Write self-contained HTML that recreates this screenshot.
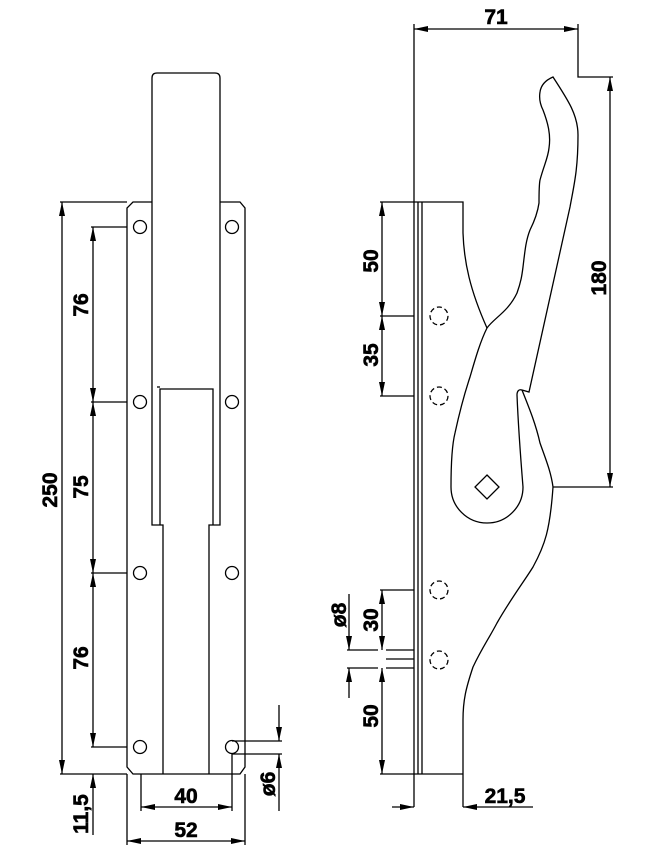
<!DOCTYPE html>
<html><head><meta charset="utf-8"><style>
html,body{margin:0;padding:0;background:#fff;}
svg{display:block;}
text{font-family:"Liberation Sans",sans-serif;font-weight:bold;font-size:21px;fill:#000;stroke:#000;stroke-width:0.6;}
</style></head><body>
<svg width="657" height="854" viewBox="0 0 657 854" xmlns="http://www.w3.org/2000/svg">
<defs>
<marker id="a" viewBox="0 0 14 6" refX="14" refY="3" markerWidth="14" markerHeight="6" markerUnits="userSpaceOnUse" orient="auto-start-reverse">
<path d="M0,0 L14,3 L0,6 z" fill="#000"/></marker>
</defs>
<g fill="none" stroke="#000" stroke-width="1.3">
<!-- LEFT VIEW -->
<path d="M152,387 L152,78 Q152,73 157,73 L215,73 Q220,73 220,78 L220,387"/>
<path d="M152,202 L133,202 L127,208 L127,767 L133,774 L240,774 L245,767 L245,208 L240,202 L220,202"/>
<path d="M152,387 L152,525 L163,525 L163,774"/>
<path d="M220,387 L220,525 L209,525 L209,774"/>
<path d="M160,525 L160,389 L213,389 L213,525"/>
<line x1="157" y1="387" x2="160" y2="387"/>
<g>
<circle cx="140" cy="227" r="6.5"/><circle cx="232" cy="227" r="6.5"/>
<circle cx="140" cy="402" r="6.5"/><circle cx="232" cy="402" r="6.5"/>
<circle cx="140" cy="573" r="6.5"/><circle cx="232" cy="573" r="6.5"/>
<circle cx="140" cy="747" r="6.5"/><circle cx="232" cy="747" r="6.5"/>
</g>
<line x1="60" y1="202" x2="127" y2="202"/>
<line x1="60" y1="774" x2="127" y2="774"/>
<line x1="62" y1="202" x2="62" y2="774" marker-start="url(#a)" marker-end="url(#a)"/>
<line x1="91" y1="227" x2="127" y2="227"/>
<line x1="91" y1="402" x2="127" y2="402"/>
<line x1="91" y1="573" x2="127" y2="573"/>
<line x1="91" y1="747" x2="127" y2="747"/>
<line x1="93" y1="227" x2="93" y2="402" marker-start="url(#a)" marker-end="url(#a)"/>
<line x1="93" y1="402" x2="93" y2="573" marker-start="url(#a)" marker-end="url(#a)"/>
<line x1="93" y1="573" x2="93" y2="747" marker-start="url(#a)" marker-end="url(#a)"/>
<line x1="93" y1="835" x2="93" y2="774" marker-end="url(#a)"/>
<line x1="141" y1="774" x2="141" y2="811"/>
<line x1="232" y1="754" x2="232" y2="811"/>
<line x1="141" y1="807" x2="232" y2="807" marker-start="url(#a)" marker-end="url(#a)"/>
<line x1="127" y1="774" x2="127" y2="845"/>
<line x1="245" y1="774" x2="245" y2="845"/>
<line x1="127" y1="841" x2="245" y2="841" marker-start="url(#a)" marker-end="url(#a)"/>
<line x1="232" y1="741" x2="282" y2="741"/>
<line x1="232" y1="754" x2="282" y2="754"/>
<line x1="279" y1="705" x2="279" y2="741" marker-end="url(#a)"/>
<line x1="279" y1="811" x2="279" y2="754" marker-end="url(#a)"/>

<!-- RIGHT VIEW -->
<line x1="414" y1="29" x2="578" y2="29" marker-start="url(#a)" marker-end="url(#a)"/>
<line x1="414" y1="24" x2="414" y2="807"/>
<line x1="418" y1="202" x2="418" y2="774"/>
<line x1="422" y1="202" x2="422" y2="774"/>
<path d="M578,24 L578,77 L613,77"/>
<line x1="610" y1="77" x2="610" y2="487" marker-start="url(#a)" marker-end="url(#a)"/>
<line x1="553" y1="487" x2="613" y2="487"/>
<path d="M414,202 L463,202 L463,233 C464,262 470,290 487,328"/>
<path d="M414,774 L463,774 L463,807 M463,774 L463,720 C463,700 466,688 473,667 C482,648 488,640 497,623 C510,600 525,580 533,567 C545,545 550,530 553,487"/>
<path d="M487,328 C494,318 508,312 517,293 C521,282 522,275 523,267 C525,250 526,240 530,230 C536,218 538,210 539,203 C539,195 539,185 540,180 C544,165 548,158 549,148 C551,135 548,123 543,110 C540,104 539,98 540,92 C541,85 546,80 553,77 C568,100 578,115 578,135 C578,170 574,185 570,207 L529,392 L522,390 C519,389 517,391 517,395 C518,420 520,450 523,487 A36,36 0 0 1 451,487 C451,465 452,445 455,433 C460,410 464,395 470,377 C475,360 480,342 487,328 Z"/>
<path d="M522,390 C530,410 536,425 540,443 C546,460 551,472 553,487"/>
<path d="M487,475 L499,487 L487,499 L475,487 Z"/>
<g stroke-dasharray="5,3">
<circle cx="439" cy="316" r="9"/><circle cx="439" cy="396" r="9"/>
<circle cx="439" cy="590" r="9"/><circle cx="439" cy="660" r="9"/>
</g>
<line x1="380" y1="202" x2="414" y2="202"/>
<line x1="380" y1="316" x2="414" y2="316"/>
<line x1="380" y1="396" x2="414" y2="396"/>
<line x1="382" y1="202" x2="382" y2="316" marker-start="url(#a)" marker-end="url(#a)"/>
<line x1="382" y1="316" x2="382" y2="396" marker-start="url(#a)" marker-end="url(#a)"/>
<line x1="380" y1="590" x2="414" y2="590"/>
<line x1="382" y1="590" x2="382" y2="650" marker-start="url(#a)" marker-end="url(#a)"/>
<line x1="382" y1="668" x2="382" y2="774" marker-start="url(#a)" marker-end="url(#a)"/>
<line x1="380" y1="774" x2="414" y2="774"/>
<path d="M347,650 L378,650 M386,650 L414,650 M386,659 L414,659 M347,668 L378,668 M386,668 L414,668"/>
<line x1="349" y1="594" x2="349" y2="650" marker-end="url(#a)"/>
<line x1="349" y1="698" x2="349" y2="668" marker-end="url(#a)"/>
<line x1="392" y1="807" x2="414" y2="807" marker-end="url(#a)"/>
<line x1="533" y1="807" x2="463" y2="807" marker-end="url(#a)"/>
</g>
<g text-anchor="middle">
<text transform="translate(88,305) rotate(-90)">76</text>
<text transform="translate(88,487) rotate(-90)">75</text>
<text transform="translate(88,658) rotate(-90)">76</text>
<text transform="translate(57,490) rotate(-90)">250</text>
<text transform="translate(88,814) rotate(-90)">11,5</text>
<text x="186" y="803">40</text>
<text x="186" y="837">52</text>
<text transform="translate(275,784) rotate(-90)">ø6</text>
<text x="496" y="24">71</text>
<text transform="translate(606,278) rotate(-90)">180</text>
<text transform="translate(378,261) rotate(-90)">50</text>
<text transform="translate(378,355) rotate(-90)">35</text>
<text transform="translate(378,620) rotate(-90)">30</text>
<text transform="translate(346,615) rotate(-90)">ø8</text>
<text transform="translate(378,716) rotate(-90)">50</text>
<text x="505" y="803">21,5</text>
</g>
</svg>
</body></html>
